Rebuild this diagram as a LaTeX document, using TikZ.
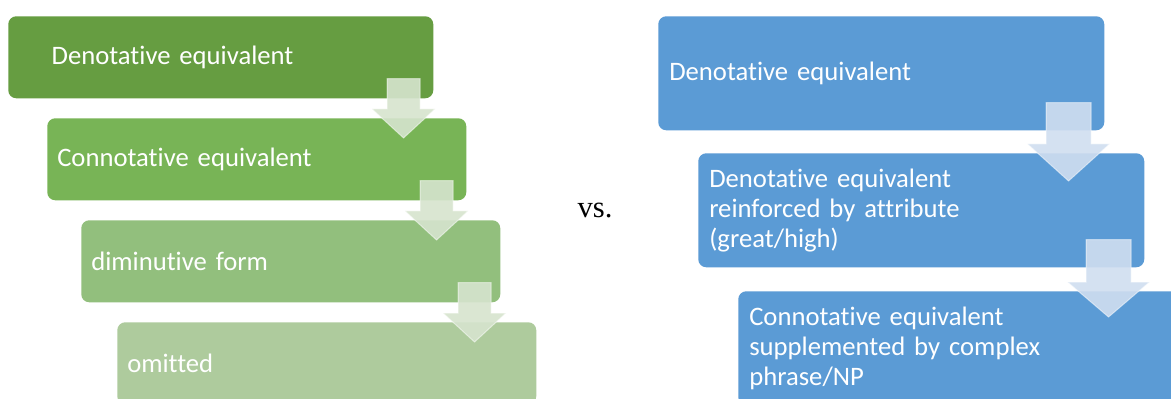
\documentclass[tikz,border=0pt]{standalone}
\usepackage{fontspec}
\setmainfont{Carlito}[Ligatures=NoCommon]
\newfontfamily\vsfont{Liberation Serif}
\usetikzlibrary{calc}

\definecolor{greenA}{RGB}{102,157,65}
\definecolor{greenB}{RGB}{120,180,86}
\definecolor{greenC}{RGB}{146,191,125}
\definecolor{greenD}{RGB}{174,203,157}
\definecolor{boxblue}{RGB}{91,155,213}
\definecolor{arrowgreen}{RGB}{214,228,206}
\definecolor{arrowblue}{RGB}{208,222,240}

\tikzset{
    lbox/.style={rounded corners=6pt, anchor=north west,
        minimum height=61.5pt, text width=299.25pt, inner xsep=7.5pt, align=left,
        text=white, font=\fontsize{20}{22.5}\selectfont},
    rbox/.style={rbox base, fill=boxblue},
    rbox base/.style={rounded corners=6pt, anchor=north west,
        minimum height=85.5pt, text width=318pt, inner xsep=8.25pt, align=left,
        text=white, font=\fontsize{20}{22.5}\selectfont},
    greenarrow/.style={fill=arrowgreen, fill opacity=0.9, draw=white, draw opacity=0.5, line width=0.75pt},
    bluearrow/.style={fill=arrowblue, fill opacity=0.9, draw=white, draw opacity=0.5, line width=0.75pt}
}

% block arrow from box #1 down into box #2
% #3 style, #4 dx from right edge, #5 shaft half width, #6 head half width, #7 shaft start above bottom, #8 tip below top
\newcommand{\steparrow}[8]{%
    \coordinate (s) at ($(#1.south east)+(-#4,-#7)$);
    \coordinate (t) at (s |- #2.north);
    \draw[#3] ($(s)+(-#5,0)$) -- ($(s)+(#5,0)$) -- ($(t)+(#5,-9)$) -- ($(t)+(#6,-9)$)
        -- ($(t)+(0,#8)$) -- ($(t)+(-#6,-9)$) -- ($(t)+(-#5,-9)$) -- cycle;
}

\begin{document}
\begin{tikzpicture}[x=0.75pt, y=-0.75pt]
    \clip (0,0) rectangle (1171,399);
    \fill[white] (0,0) rectangle (1171,399);

    % left chain
    \node[lbox, fill=greenA, text width=303.75pt] (L1) at (8,16) {\hspace*{25pt}Denotative equivalent};
    \node[lbox, fill=greenB] (L2) at (47,118) {Connotative equivalent};
    \node[lbox, fill=greenC] (L3) at (81,220) {diminutive form};
    \node[lbox, fill=greenD] (L4) at (117,322) {omitted};

    % right chain
    \node[rbox] (R1) at (658,16) {Denotative equivalent};
    \node[rbox] (R2) at (698,153) {Denotative equivalent\\ reinforced by attribute\\ (great/high)};
    \node[rbox] (R3) at (738,291) {Connotative equivalent\\ supplemented by complex\\ phrase/NP};

    % arrows between the steps
    \steparrow{L1}{L2}{greenarrow}{30}{16.5}{31.5}{20}{20}
    \steparrow{L2}{L3}{greenarrow}{30}{16.5}{31.5}{20}{20}
    \steparrow{L3}{L4}{greenarrow}{26}{16.5}{31.5}{20}{20}
    \steparrow{R1}{R2}{bluearrow}{36}{22.5}{41}{28}{28}
    \steparrow{R2}{R3}{bluearrow}{36}{22.5}{41}{28}{26}

    \node[font=\vsfont\fontsize{23}{26}\selectfont] (vs) at (595,210) {vs.};
\end{tikzpicture}
\end{document}
